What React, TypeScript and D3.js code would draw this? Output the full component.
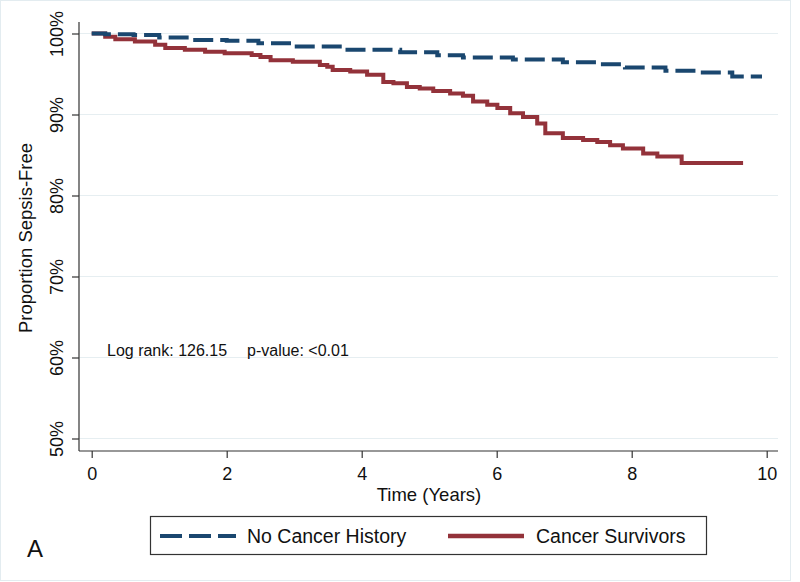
import React, { useRef, useEffect } from 'react';
import * as d3 from 'd3';

// Kaplan-Meier estimates (time in years, % sepsis-free)
const noCancerTime = [0, 0.2, 0.62, 1.0, 1.5, 2.0, 2.47, 3.0, 3.72, 4.57, 5.12, 5.5, 6.24, 6.98, 7.5, 7.9, 8.5, 9.0, 9.49, 9.93];
const noCancerSurv = [100, 99.9, 99.8, 99.5, 99.2, 99.1, 98.8, 98.4, 98.0, 97.7, 97.3, 97.05, 96.8, 96.45, 96.2, 95.8, 95.4, 95.2, 94.7, 94.7];

const survivorTime = [0, 0.2, 0.35, 0.64, 0.94, 1.09, 1.38, 1.68, 1.97, 2.37, 2.5, 2.65, 2.98, 3.38, 3.49, 3.57, 3.83, 4.08, 4.32, 4.47, 4.67, 4.86, 5.06, 5.31, 5.5, 5.65, 5.86, 6.01, 6.2, 6.39, 6.6, 6.72, 6.98, 7.28, 7.49, 7.68, 7.87, 8.17, 8.38, 8.74, 9.65];
const survivorSurv = [100, 99.6, 99.3, 99.0, 98.6, 98.2, 98.0, 97.75, 97.55, 97.35, 97.1, 96.7, 96.5, 96.1, 95.9, 95.5, 95.3, 94.9, 94.0, 93.85, 93.4, 93.2, 92.9, 92.6, 92.3, 91.6, 91.2, 90.8, 90.15, 89.7, 88.9, 87.7, 87.1, 86.85, 86.6, 86.2, 85.8, 85.2, 84.8, 84.0, 84.0];

const xTicks = [0, 2, 4, 6, 8, 10];
const yTicks = [50, 60, 70, 80, 90, 100];
const seriesNames = ['No Cancer History', 'Cancer Survivors'];

const BLUE = '#1a476f';
const RED = '#93323a';
const FONT = '"Liberation Sans", Arial, Helvetica, sans-serif';

const App = () => {
  const svgRef = useRef<SVGSVGElement>(null);

  useEffect(() => {
    const width = 800;
    const height = 582;
    const plot = { left: 79, right: 778, top: 22, bottom: 451 };

    const svg = d3.select(svgRef.current)
      .attr('width', width)
      .attr('height', height);
    svg.selectAll('*').remove();

    svg.append('rect')
      .attr('x', 0.5).attr('y', 0.5)
      .attr('width', 790).attr('height', 580)
      .attr('fill', '#fff')
      .attr('stroke', '#e3ecf0');

    const x = d3.scaleLinear().domain([0, 10]).range([91.7, 766.7]);
    const y = d3.scaleLinear().domain([50, 100]).range([438.5, 33.5]);

    // grid
    svg.append('g')
      .selectAll('line')
      .data(yTicks)
      .enter()
      .append('line')
      .attr('x1', plot.left).attr('x2', plot.right)
      .attr('y1', d => y(d)).attr('y2', d => y(d))
      .attr('stroke', '#e6eef1')
      .attr('stroke-width', 1);

    // axes
    const xAxis = svg.append('g')
      .attr('transform', `translate(0,${plot.bottom})`)
      .call(d3.axisBottom(x).tickValues(xTicks).tickSize(7).tickSizeOuter(0).tickPadding(9));
    xAxis.select('.domain').attr('d', `M${plot.left},0H${plot.right}`);

    const yAxis = svg.append('g')
      .attr('transform', `translate(${plot.left},0)`)
      .call(d3.axisLeft(y).tickValues(yTicks).tickSize(7).tickSizeOuter(0).tickFormat(d => `${d}%`));
    yAxis.select('.domain').attr('d', `M0,${plot.top}V${plot.bottom}`);
    yAxis.selectAll('.tick text')
      .attr('x', null).attr('dy', null)
      .attr('transform', 'translate(-16,0) rotate(-90)')
      .attr('text-anchor', 'middle');

    svg.selectAll('.domain, .tick line').attr('stroke', '#333').attr('stroke-width', 1.2);
    svg.selectAll('.tick text')
      .attr('fill', '#111')
      .style('font-family', FONT)
      .style('font-size', '18px');

    // curves
    const line = d3.line<[number, number]>()
      .x(d => x(d[0]))
      .y(d => y(d[1]))
      .curve(d3.curveStepAfter);

    const noCancer = noCancerTime.map((t, i) => [t, noCancerSurv[i]] as [number, number]);
    const survivors = survivorTime.map((t, i) => [t, survivorSurv[i]] as [number, number]);

    svg.append('path')
      .attr('d', line(survivors))
      .attr('fill', 'none')
      .attr('stroke', RED)
      .attr('stroke-width', 4);

    svg.append('path')
      .attr('d', line(noCancer))
      .attr('fill', 'none')
      .attr('stroke', BLUE)
      .attr('stroke-width', 4)
      .attr('stroke-dasharray', '20,7');

    // titles
    svg.append('text')
      .attr('x', 429).attr('y', 501)
      .attr('text-anchor', 'middle')
      .style('font-family', FONT).style('font-size', '18.5px')
      .attr('fill', '#111')
      .text('Time (Years)');

    svg.append('text')
      .attr('transform', 'translate(32,238) rotate(-90)')
      .attr('text-anchor', 'middle')
      .style('font-family', FONT).style('font-size', '18.5px')
      .attr('fill', '#111')
      .text('Proportion Sepsis-Free');

    // annotation
    svg.append('text')
      .attr('x', 107).attr('y', 356)
      .style('font-family', FONT).style('font-size', '16px')
      .attr('fill', '#111')
      .text('Log rank: 126.15');
    svg.append('text')
      .attr('x', 247).attr('y', 356)
      .style('font-family', FONT).style('font-size', '16px')
      .attr('fill', '#111')
      .text('p-value: <0.01');

    // legend
    const legend = svg.append('g');
    legend.append('rect')
      .attr('x', 150.5).attr('y', 516.5)
      .attr('width', 556).attr('height', 38)
      .attr('fill', '#fff')
      .attr('stroke', '#333')
      .attr('stroke-width', 1.2);
    legend.append('line')
      .attr('x1', 160).attr('x2', 236).attr('y1', 536).attr('y2', 536)
      .attr('stroke', BLUE).attr('stroke-width', 4)
      .attr('stroke-dasharray', '22,7');
    legend.append('line')
      .attr('x1', 448).attr('x2', 524).attr('y1', 536).attr('y2', 536)
      .attr('stroke', RED).attr('stroke-width', 4.5);
    legend.selectAll('text.item')
      .data(seriesNames)
      .enter()
      .append('text')
      .attr('class', 'item')
      .attr('x', (d, i) => (i === 0 ? 247 : 536))
      .attr('y', 543)
      .style('font-family', FONT).style('font-size', '19.5px')
      .attr('fill', '#111')
      .text(d => d);

    svg.append('text')
      .attr('x', 27).attr('y', 557)
      .style('font-family', FONT).style('font-size', '24px')
      .attr('fill', '#111')
      .text('A');
  }, []);

  return <svg ref={svgRef} style={{ position: 'absolute', left: 0, top: 0, display: 'block' }}></svg>;
};

export default App;
